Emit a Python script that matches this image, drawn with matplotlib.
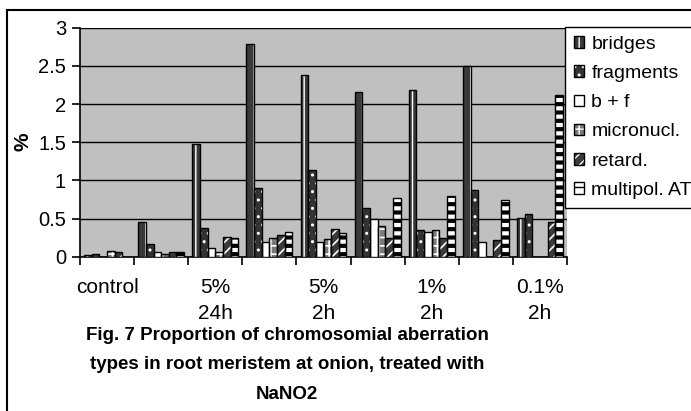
import matplotlib
matplotlib.use("Agg")
import matplotlib.pyplot as plt
import matplotlib.patches as mpatches
from matplotlib.lines import Line2D
from matplotlib.legend_handler import HandlerTuple
import numpy as np

# categories (Excel only printed every other label)
groups = ["control", "", "5%\n24h", "", "5%\n2h", "", "1%\n2h", "", "0.1%\n2h"]
series = ["bridges", "fragments", "b + f", "micronucl.", "retard.", "multipol. AT"]
bridges = [0.02, 0.46, 1.47, 2.79, 2.38, 2.16, 2.18, 2.50, 0.51]
fragments = [0.03, 0.17, 0.38, 0.90, 1.13, 0.64, 0.345, 0.88, 0.555]
b_f = [0.0, 0.06, 0.11, 0.19, 0.19, 0.49, 0.32, 0.19, 0.0]
micronucl = [0.075, 0.03, 0.057, 0.25, 0.23, 0.40, 0.345, 0.0, 0.0]
retard = [0.06, 0.065, 0.26, 0.28, 0.36, 0.25, 0.25, 0.22, 0.46]
multipol = [0.0, 0.065, 0.25, 0.32, 0.31, 0.77, 0.79, 0.74, 2.12]
values = [bridges, fragments, b_f, micronucl, retard, multipol]

# (face, hatch colour, hatch, hatch width)
styles = [
    ("#3a3a3a", "white", "||", 1.0),
    ("#333333", "white", "..", 1.0),
    ("white", "white", "", 1.0),
    ("#7a7a7a", "white", "++", 1.2),
    ("#3a3a3a", "white", "///", 1.2),
    ("white", "black", "--", 3.0),
]

plt.rcParams["font.family"] = ["Liberation Sans", "DejaVu Sans"]

W, H = 691, 411
fig = plt.figure(figsize=(W / 100, H / 100), dpi=100)
ax = fig.add_axes([80 / W, 1 - 256.7 / H, (567 - 80) / W, (256.7 - 27.7) / H])
ax.set_facecolor("#c0c0c0")

x = np.arange(len(groups))
bw = 0.85 / len(series)
handles = []
for i, (vals, (fc, hc, hatch, hlw)) in enumerate(zip(values, styles)):
    pos = x - 0.425 + bw * (i + 0.5)
    ax.bar(pos, vals, bw, color=fc, lw=0, zorder=3)
    hb = ax.bar(pos, vals, bw, fill=False, edgecolor=hc, hatch=hatch, lw=0, zorder=4)
    for p in hb:
        if hasattr(p, "set_hatch_linewidth"):
            p.set_hatch_linewidth(hlw)
    ax.bar(pos, vals, bw, fill=False, edgecolor="black", lw=1.0, zorder=5)
    h1 = mpatches.Patch(facecolor=fc, lw=0)
    h2 = mpatches.Patch(fill=False, edgecolor=hc, hatch=hatch, lw=0)
    if hasattr(h2, "set_hatch_linewidth"):
        h2.set_hatch_linewidth(hlw)
    h3 = mpatches.Patch(fill=False, edgecolor="black", lw=1.0)
    handles.append((h1, h2, h3))

ax.set_xlim(-0.5, len(groups) - 0.5)
ax.set_ylim(0, 3)
ax.set_yticks(np.arange(0, 3.01, 0.5))
ax.set_yticklabels(["0", "0.5", "1", "1.5", "2", "2.5", "3"])
ax.yaxis.grid(True, color="black", lw=1.0, zorder=1)
ax.set_axisbelow(True)
ax.set_xticks(np.arange(-0.5, len(groups), 1.0))
ax.set_xticklabels([])
ax.set_xticks(x, minor=True)
ax.set_xticklabels(groups, minor=True, fontsize=15, linespacing=1.5)
ax.tick_params(axis="x", which="minor", length=0, pad=15)
ax.tick_params(axis="x", which="major", length=6, width=1.2, direction="out")
ax.tick_params(axis="y", length=6, width=1.2, labelsize=14.5, pad=4)
for s in ["top", "right"]:
    ax.spines[s].set_visible(False)
for s in ["left", "bottom"]:
    ax.spines[s].set_linewidth(1.2)

ax.set_ylabel("%", fontsize=15, fontweight="bold", labelpad=4)

leg = fig.legend(handles, series, handler_map={tuple: HandlerTuple(ndivide=1)},
                 loc="upper left", bbox_to_anchor=(565 / W, 1 - 27 / H),
                 fontsize=14, frameon=True, fancybox=False, edgecolor="black",
                 framealpha=1, handlelength=0.55, handleheight=0.55,
                 handletextpad=0.35, labelspacing=0.63, borderpad=0.45,
                 borderaxespad=0)
leg.get_frame().set_linewidth(1.0)

title = ["Fig. 7 Proportion of chromosomial aberration",
         "types in root meristem at onion, treated with",
         "NaNO2"]
for line, yy in zip(title, [335, 364, 394]):
    fig.text(287 / W, 1 - yy / H, line, ha="center", va="center",
             fontsize=13.5, fontweight="bold")

# chart border (only top and left visible in the crop)
fig.add_artist(Line2D([7 / W, 1.0], [1 - 10 / H] * 2, color="black", lw=1.5))
fig.add_artist(Line2D([7 / W] * 2, [0.0, 1 - 10 / H], color="black", lw=1.5))

fig.savefig("out.png", dpi=100)
